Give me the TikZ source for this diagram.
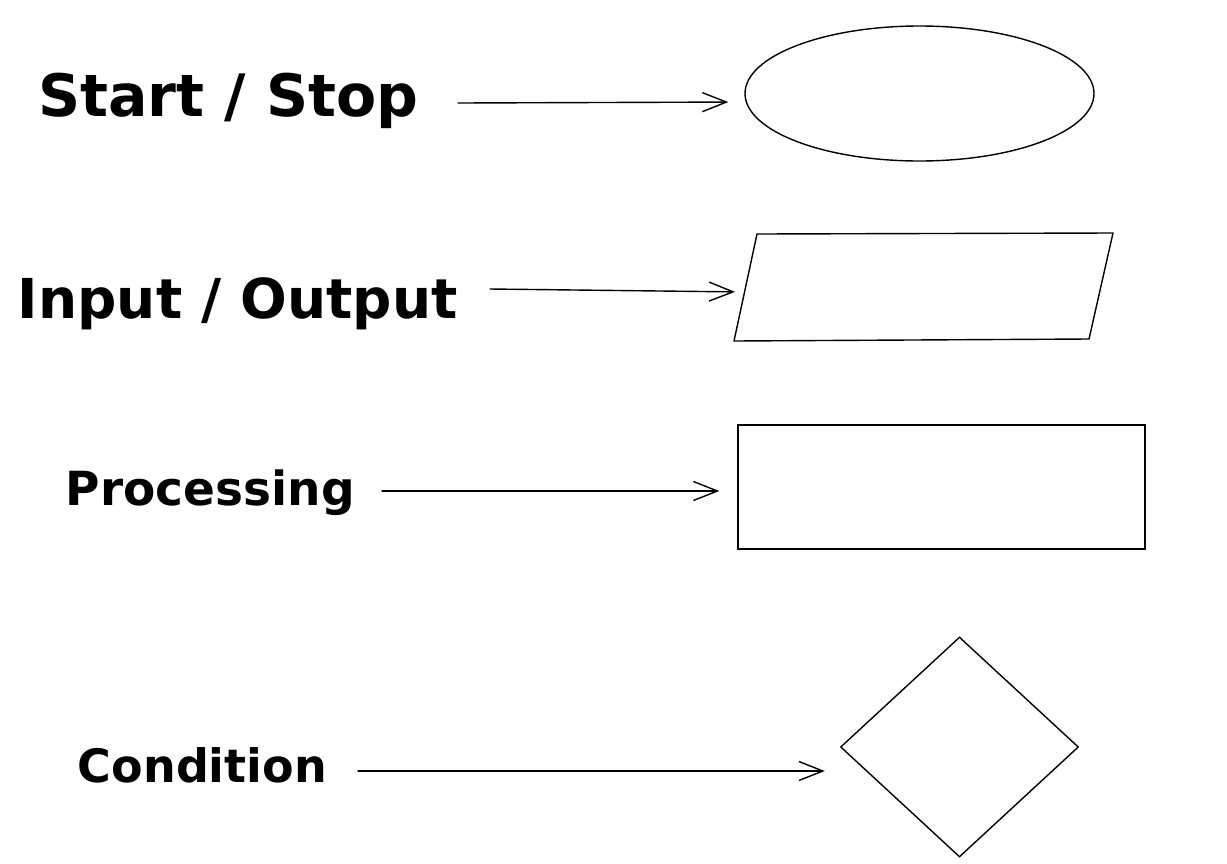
\documentclass[tikz,border=0pt]{standalone}
\usepackage{fontspec}
\setmainfont{DejaVu Sans}
\newfontfamily\handfont{DejaVu Sans}[UprightFont=* Bold]
\usetikzlibrary{arrows.meta,shapes.geometric}

\tikzset{
  lbl/.style={anchor=base east, inner sep=0pt, font=\handfont\fontsize{#1}{#1}\selectfont},
  outline/.style={draw=black, line width=1.4pt, inner sep=0pt},
  flow/.style={draw=black, line width=1.4pt, line cap=round,
    -{Straight Barb[length=24pt,width=19pt,line width=1.4pt]}},
}

\begin{document}
\begin{tikzpicture}[x=1pt, y=-1pt]
  \useasboundingbox[fill=white] (0,0) rectangle (1227,863);

  % labels on the left
  \node[lbl=58.5] (lstart) at (419,116) {Start / Stop};
  \node[lbl=55] (lio)    at (458,318) {Input / Output};
  \node[lbl=47] (lproc)  at (355,505) {Processing};
  \node[lbl=46] (lcond)  at (327,782) {Condition};

  % symbols on the right
  \node[outline, ellipse, minimum width=349pt, minimum height=135pt] (term) at (919.5,93.5) {};
  \draw[line width=1.4pt, line join=round]
    (757,234) -- (1113,233) -- (1089,339) -- (734,341) -- cycle;
  \coordinate (io) at (745,292);
  \node[outline, rectangle, minimum width=407pt, minimum height=124pt] (proc) at (941.5,487) {};
  \node[outline, diamond, minimum width=238pt, minimum height=220pt] (cond) at (959.5,747) {};

  % connectors
  \draw[flow, shorten >=16pt] ([shift={(39,-13)}]lstart.base east) -- ([yshift=-8.5pt]term.west);
  \draw[flow, shorten >=10pt] ([shift={(32,-29)}]lio.base east) -- (io);
  \draw[flow, shorten >=18pt] ([shift={(27,-14)}]lproc.base east) -- ([yshift=-4pt]proc.west);
  \draw[flow, shorten >=15pt] ([shift={(31,-11)}]lcond.base east) -- ([yshift=-24pt]cond.west);
\end{tikzpicture}
\end{document}
